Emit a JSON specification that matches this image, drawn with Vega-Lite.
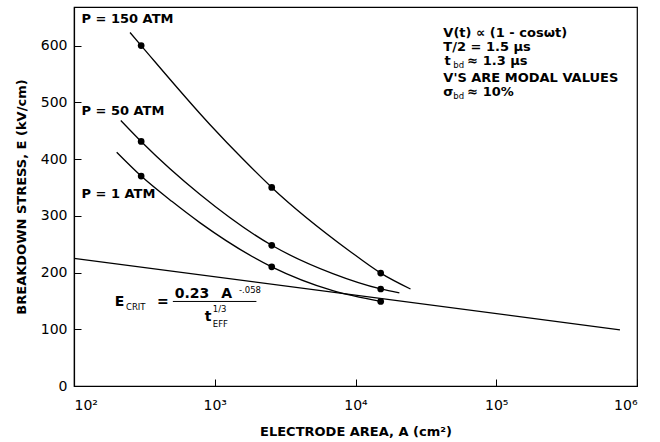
{
  "$schema": "https://vega.github.io/schema/vega-lite/v6.json",
  "width": 563,
  "height": 379,
  "autosize": {"type": "none"},
  "padding": {"left": 74, "top": 7, "right": 23, "bottom": 56},
  "background": "white",
  "config": {
    "view": {"stroke": "black", "strokeWidth": 1.2},
    "font": "DejaVu Sans",
    "axis": {
      "domainColor": "black",
      "domainWidth": 1.2,
      "tickColor": "black",
      "tickSize": -7,
      "tickWidth": 1,
      "labelColor": "black",
      "labelFont": "DejaVu Sans",
      "labelFontSize": 14,
      "titleColor": "black",
      "titleFont": "DejaVu Sans",
      "titleFontSize": 13,
      "titleFontWeight": "bold",
      "grid": false
    }
  },
  "datasets": {
    "curves": [
      {"P": "150", "A": 250, "E": 623},
      {"P": "150", "A": 300, "E": 600},
      {"P": "150", "A": 923, "E": 461},
      {"P": "150", "A": 1585, "E": 400},
      {"P": "150", "A": 2540, "E": 350},
      {"P": "150", "A": 9060, "E": 238},
      {"P": "150", "A": 15100, "E": 199},
      {"P": "150", "A": 24600, "E": 171},
      {"P": "50", "A": 215, "E": 468},
      {"P": "50", "A": 300, "E": 431},
      {"P": "50", "A": 783, "E": 338},
      {"P": "50", "A": 2540, "E": 248},
      {"P": "50", "A": 6900, "E": 198},
      {"P": "50", "A": 15100, "E": 171},
      {"P": "50", "A": 20500, "E": 164},
      {"P": "1", "A": 201, "E": 412},
      {"P": "1", "A": 300, "E": 370},
      {"P": "1", "A": 498, "E": 325},
      {"P": "1", "A": 783, "E": 288},
      {"P": "1", "A": 2540, "E": 210},
      {"P": "1", "A": 6900, "E": 168},
      {"P": "1", "A": 15100, "E": 149},
      {"P": "crit", "A": 100, "E": 225},
      {"P": "crit", "A": 757000, "E": 99}
    ],
    "points": [
      {"P": "150", "A": 300, "E": 600},
      {"P": "150", "A": 2540, "E": 350},
      {"P": "150", "A": 15100, "E": 199},
      {"P": "50", "A": 300, "E": 431},
      {"P": "50", "A": 2540, "E": 248},
      {"P": "50", "A": 15100, "E": 171},
      {"P": "1", "A": 300, "E": 370},
      {"P": "1", "A": 2540, "E": 210},
      {"P": "1", "A": 15100, "E": 149}
    ],
    "labels": [
      {"A": 113, "E": 647, "t": "P = 150 ATM"},
      {"A": 113, "E": 485, "t": "P = 50 ATM"},
      {"A": 113, "E": 339, "t": "P = 1 ATM"},
      {"A": 42100, "E": 623, "t": "V(t) ∝ (1 - cosωt)"},
      {"A": 42100, "E": 598, "t": "T/2 = 1.5 μs"},
      {"A": 42800, "E": 573, "t": "t"},
      {"A": 62200, "E": 573, "t": "≈ 1.3 μs"},
      {"A": 42100, "E": 543, "t": "V'S ARE MODAL VALUES"},
      {"A": 42100, "E": 519, "t": "σ"},
      {"A": 62200, "E": 519, "t": "≈ 10%"}
    ],
    "formula": [
      {"A": 195, "E": 148, "t": "E"},
      {"A": 388, "E": 148, "t": "="},
      {"A": 520, "E": 163, "t": "0.23"},
      {"A": 1114, "E": 163, "t": "A"},
      {"A": 849, "E": 121, "t": "t"}
    ],
    "small": [
      {"A": 49500, "E": 566, "t": "bd"},
      {"A": 49500, "E": 511, "t": "bd"},
      {"A": 234, "E": 139, "t": "CRIT"},
      {"A": 1486, "E": 170, "t": "-.058"},
      {"A": 968, "E": 135, "t": "1/3"},
      {"A": 968, "E": 110, "t": "EFF"}
    ],
    "fraction": [
      {"A": 504, "A2": 1977, "E": 149}
    ]
  },
  "encoding": {
    "x": {
      "field": "A",
      "type": "quantitative",
      "scale": {"type": "log", "domain": [100, 1000000]},
      "axis": {
        "values": [100, 1000, 10000, 100000, 1000000],
        "labelExpr": "'10' + ['⁰','¹','²','³','⁴','⁵','⁶'][round(log(datum.value)/LN10)]",
        "labelPadding": 19,
        "title": "ELECTRODE AREA, A (cm²)",
        "titlePadding": 13
      }
    },
    "y": {
      "field": "E",
      "type": "quantitative",
      "scale": {"domain": [0, 668], "nice": false, "zero": true},
      "axis": {
        "values": [0, 100, 200, 300, 400, 500, 600],
        "labelPadding": 14,
        "title": "BREAKDOWN STRESS, E (kV/cm)",
        "titlePadding": 12
      }
    }
  },
  "layer": [
    {
      "data": {"name": "curves"},
      "mark": {"type": "line", "interpolate": "monotone", "color": "black", "strokeWidth": 1.3},
      "encoding": {"detail": {"field": "P", "type": "nominal"}}
    },
    {
      "data": {"name": "points"},
      "mark": {"type": "point", "filled": true, "color": "black", "size": 45, "opacity": 1},
      "encoding": {}
    },
    {
      "data": {"name": "labels"},
      "mark": {"type": "text", "align": "left", "baseline": "middle", "fontSize": 13, "fontWeight": "bold", "color": "black", "font": "DejaVu Sans"},
      "encoding": {"text": {"field": "t"}}
    },
    {
      "data": {"name": "formula"},
      "mark": {"type": "text", "align": "left", "baseline": "middle", "fontSize": 14, "fontWeight": "bold", "color": "black", "font": "DejaVu Sans"},
      "encoding": {"text": {"field": "t"}}
    },
    {
      "data": {"name": "small"},
      "mark": {"type": "text", "align": "left", "baseline": "middle", "fontSize": 8.5, "color": "black", "font": "DejaVu Sans"},
      "encoding": {"text": {"field": "t"}}
    },
    {
      "data": {"name": "fraction"},
      "mark": {"type": "rule", "color": "black", "strokeWidth": 1},
      "encoding": {"x2": {"field": "A2"}}
    }
  ]
}
